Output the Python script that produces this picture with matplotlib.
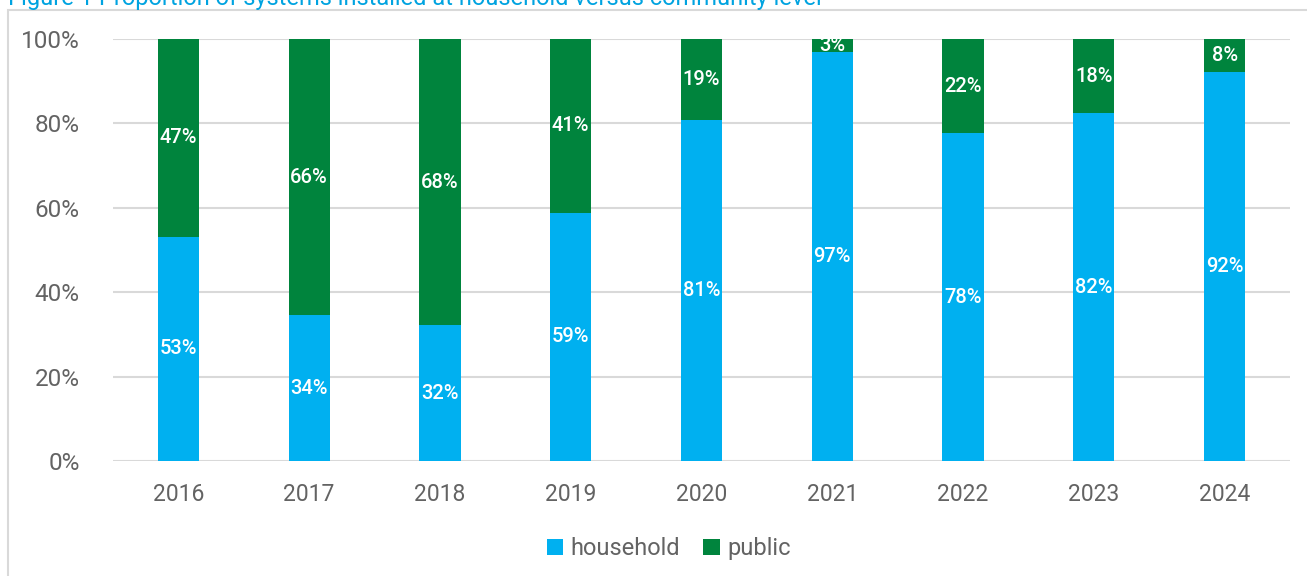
import numpy as np
from matplotlib import pyplot as plt
from matplotlib.patches import Rectangle

years = ['2016', '2017', '2018', '2019', '2020', '2021', '2022', '2023', '2024']
household = [53.1, 34.5, 32.2, 58.8, 80.8, 96.9, 77.7, 82.4, 92.2]
public = [100 - v for v in household]
household_labels = ['53%', '34%', '32%', '59%', '81%', '97%', '78%', '82%', '92%']
public_labels = ['47%', '66%', '68%', '41%', '19%', '3%', '22%', '18%', '8%']

blue = '#00B0F0'
green = '#00843D'
grey = '#636363'

plt.rcParams['font.family'] = ['Roboto', 'DejaVu Sans']

fig = plt.figure(figsize=(13.07, 5.76), dpi=100)
W, H = 1307, 576
ax = fig.add_axes([113 / W, 1 - 461 / H, (1290 - 113) / W, (461 - 39) / H])

x = np.arange(len(years))
width = 0.315
ax.bar(x, household, width, color=blue, label='household', zorder=3)
ax.bar(x, public, width, bottom=household, color=green, label='public', zorder=3)

for i in range(len(years)):
    ax.text(x[i], household[i] / 2, household_labels[i], ha='center', va='center',
            color='white', fontsize=14.5, fontweight='medium', zorder=4)
    ax.text(x[i], household[i] + public[i] / 2, public_labels[i], ha='center', va='center',
            color='white', fontsize=14.5, fontweight='medium', zorder=4)

ax.set_xlim(-0.5, len(years) - 0.5)
ax.set_ylim(0, 100)
ax.set_yticks(range(0, 101, 20))
ax.set_yticklabels([f'{v}%' for v in range(0, 101, 20)], fontsize=17.5)
ax.set_xticks(x)
ax.set_xticklabels(years, fontsize=16.5)
ax.tick_params(axis='both', length=0, labelcolor=grey)
ax.tick_params(axis='y', pad=24)
ax.tick_params(axis='x', pad=16)
ax.grid(axis='y', color='#d9d9d9', linewidth=1.5, zorder=0)
for s in ax.spines.values():
    s.set_visible(False)

ax.legend(loc='upper center', bbox_to_anchor=(0.472, -0.13), ncol=2, frameon=False,
          prop={'size': 17}, labelcolor=grey, handlelength=0.7,
          handleheight=0.7, handletextpad=0.3, columnspacing=1.0)

# outer frame of the figure box
fig.patches.append(Rectangle((8 / W, -0.1), 1.2, 1 - 10 / H + 0.1, transform=fig.transFigure,
                             fill=False, edgecolor='#d9d9d9', linewidth=1.5))

# title cut off at the top, as in the reference
fig.text(8 / W, 1 - 5 / H, 'Figure 1 Proportion of systems installed at household versus community level',
         color='#00A3E0', fontsize=17, va='baseline', ha='left')

fig.savefig('out.png', dpi=100)
